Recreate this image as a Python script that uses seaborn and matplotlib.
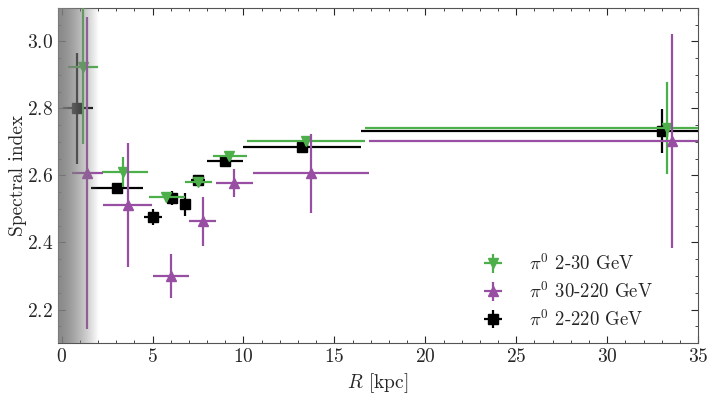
import numpy as np
import matplotlib
matplotlib.use('Agg')
import matplotlib.pyplot as plt
import seaborn as sns
from matplotlib.ticker import MultipleLocator

# 2-30 GeV
r_lo = [1.15, 3.4, 5.75, 7.5, 9.23, 13.45, 33.3]
r_lo_min = [0.33, 2.24, 4.8, 6.78, 8.3, 10.2, 16.7]
r_lo_max = [2.0, 4.75, 6.77, 8.25, 10.2, 16.7, 50.0]
idx_lo = [2.925, 2.61, 2.537, 2.582, 2.657, 2.703, 2.742]
err_lo = [0.23, 0.045, 0.01, 0.01, 0.01, 0.015, 0.138]

# 30-220 GeV
r_hi = [1.42, 3.65, 6.0, 7.76, 9.5, 13.7, 33.55]
r_hi_min = [0.55, 2.25, 5.0, 7.0, 8.5, 10.5, 16.9]
r_hi_max = [2.25, 4.98, 7.0, 8.5, 10.5, 16.9, 50.0]
idx_hi = [2.607, 2.513, 2.30, 2.463, 2.578, 2.607, 2.703]
err_hi = [0.465, 0.185, 0.067, 0.074, 0.041, 0.118, 0.318]

# 2-220 GeV
r_all = [0.87, 3.05, 5.0, 6.07, 6.78, 7.5, 9.0, 13.2, 33.0]
r_all_min = [0.1, 1.6, 4.55, 5.85, 6.55, 7.1, 8.0, 10.0, 16.45]
r_all_max = [1.75, 4.5, 5.5, 6.3, 7.0, 7.9, 9.95, 16.45, 50.0]
idx_all = [2.80, 2.563, 2.476, 2.533, 2.514, 2.586, 2.643, 2.684, 2.733]
err_all = [0.165, 0.015, 0.025, 0.022, 0.035, 0.01, 0.012, 0.015, 0.066]

sns.set_style('ticks')
plt.rcParams['font.family'] = 'serif'
plt.rcParams['font.serif'] = ['cmr10']
plt.rcParams['mathtext.fontset'] = 'cm'
plt.rcParams['axes.formatter.use_mathtext'] = True
plt.rcParams['font.size'] = 14

pal = sns.color_palette('Set1')
c_green, c_purple = pal[2], pal[3]

fig = plt.figure(figsize=(7.16, 3.97), dpi=100)
ax = fig.add_axes([0.081, 0.136, 0.894, 0.844])

def xerr(r, lo, hi):
    r = np.array(r)
    return [r - np.array(lo), np.array(hi) - r]

kw = dict(linestyle='none', elinewidth=1.6, capsize=0, markersize=7)
h_all = ax.errorbar(r_all, idx_all, yerr=err_all, xerr=xerr(r_all, r_all_min, r_all_max),
                    fmt='s', color='black', label=r'$\pi^0$ 2-220 GeV', zorder=3, **kw)
h_lo = ax.errorbar(r_lo, idx_lo, yerr=err_lo, xerr=xerr(r_lo, r_lo_min, r_lo_max),
                   fmt='v', color=c_green, label=r'$\pi^0$ 2-30 GeV', zorder=4, **kw)
h_hi = ax.errorbar(r_hi, idx_hi, yerr=err_hi, xerr=xerr(r_hi, r_hi_min, r_hi_max),
                   fmt='^', color=c_purple, label=r'$\pi^0$ 30-220 GeV', zorder=5, **kw)

# shaded inner region
t = np.linspace(0, 1, 200)
grad = np.zeros((1, 200, 4))
grad[..., :3] = 0.5
grad[..., 3] = 0.92 * (1 - t ** 1.5)
ax.imshow(grad, extent=[-0.2, 2.0, 2.1, 3.1], aspect='auto', zorder=10, interpolation='bilinear')

ax.set_xlim(-0.2, 35)
ax.set_ylim(2.1, 3.1)
ax.set_xlabel(r'$R$ [kpc]')
ax.set_ylabel('Spectral index')
ax.yaxis.set_label_coords(-0.048, 0.5)
ax.xaxis.set_major_locator(MultipleLocator(5))
ax.xaxis.set_minor_locator(MultipleLocator(1))
ax.yaxis.set_major_locator(MultipleLocator(0.2))
ax.yaxis.set_minor_locator(MultipleLocator(0.05))
ax.tick_params(which='both', direction='in', top=True, right=True)
ax.tick_params(which='major', length=5)
ax.tick_params(which='minor', length=2.5)
for s in ax.spines.values():
    s.set_color('#555555')

ax.legend(handles=[h_lo, h_hi, h_all], loc='lower right', frameon=False, fontsize=13.5,
          bbox_to_anchor=(0.955, -0.01), handlelength=1.2, handletextpad=1.3, labelspacing=0.4)

fig.savefig('out.png', dpi=100)
